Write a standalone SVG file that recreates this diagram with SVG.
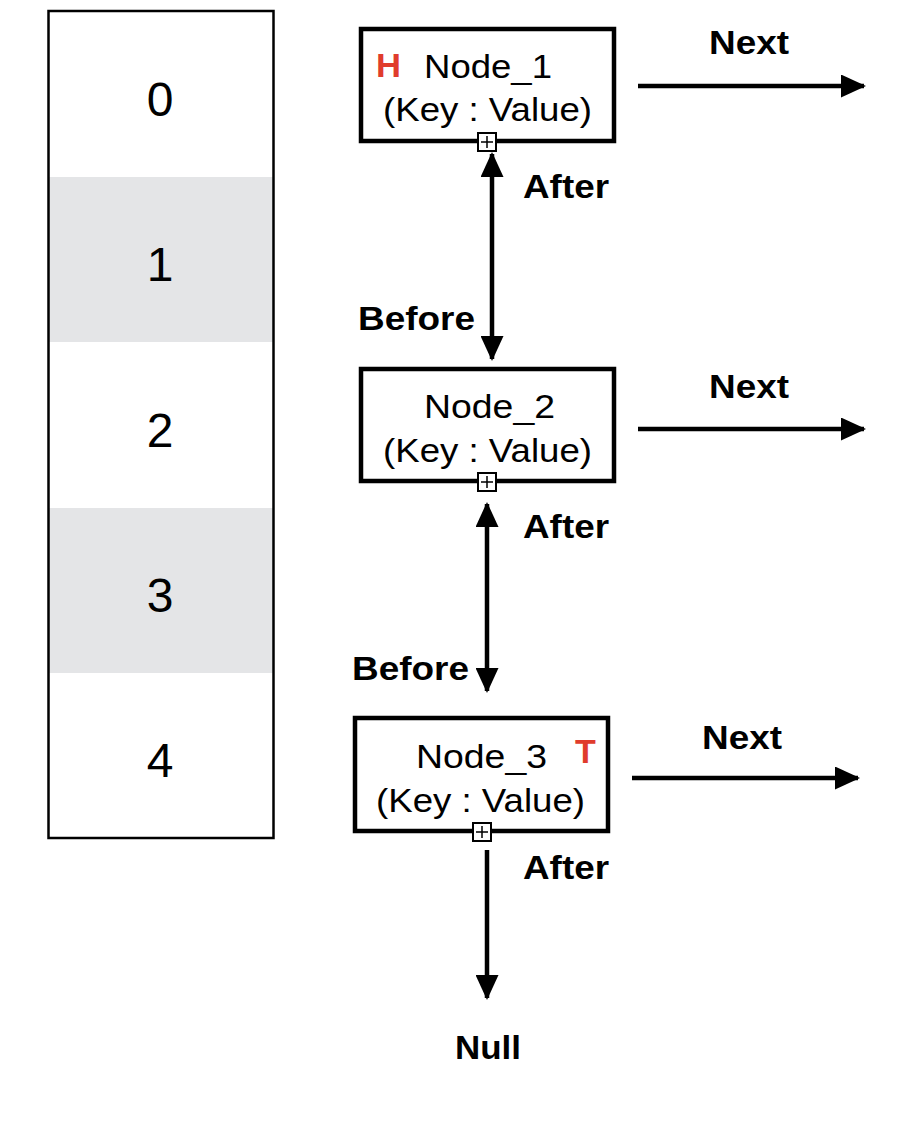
<svg xmlns="http://www.w3.org/2000/svg" width="920" height="1138" viewBox="0 0 920 1138">
<style>
.num{font-family:"Liberation Sans",Arial,sans-serif;font-size:48px;fill:#000;text-anchor:middle}
.nt{font-family:"Liberation Sans",Arial,sans-serif;font-size:34px;fill:#000}
.lb{font-family:"Liberation Sans",Arial,sans-serif;font-size:34px;font-weight:bold;fill:#000}
.mk{font-family:"Liberation Sans",Arial,sans-serif;font-size:34px;font-weight:bold;fill:#e03c2c}
.box{fill:#fff;stroke:#000;stroke-width:4.5}
.sq{fill:#fff;stroke:#000;stroke-width:2}
.ln{stroke:#000;stroke-width:4.5;fill:none}
</style>
<defs>
<marker id="ah" markerUnits="userSpaceOnUse" markerWidth="25" markerHeight="23" refX="23" refY="11.5" orient="auto-start-reverse" viewBox="0 0 25 23">
<path d="M0,0 L25,11.5 L0,23 Z" fill="#000"/>
</marker>
</defs>
<rect width="920" height="1138" fill="#fff"/>
<g id="table">
<rect x="48" y="177" width="226" height="165" fill="#e4e5e7"/>
<rect x="48" y="508" width="226" height="165" fill="#e4e5e7"/>
<rect x="48.5" y="11" width="225" height="827" fill="none" stroke="#000" stroke-width="2.5"/>
<text class="num" x="160" y="116">0</text>
<text class="num" x="160" y="281">1</text>
<text class="num" x="160" y="447">2</text>
<text class="num" x="160" y="612">3</text>
<text class="num" x="160" y="777">4</text>
</g>
<g id="node1">
<rect class="box" x="361" y="29" width="253" height="112"/>
<text class="mk" x="376" y="77" textLength="25" lengthAdjust="spacingAndGlyphs">H</text>
<text class="nt" x="424" y="78" textLength="128" lengthAdjust="spacingAndGlyphs">Node_1</text>
<text class="nt" x="383" y="121" textLength="209" lengthAdjust="spacingAndGlyphs">(Key : Value)</text>
<rect class="sq" x="478" y="133" width="18" height="18"/>
<path d="M481,142 H493 M487,136 V148" stroke="#000" stroke-width="1.5"/>
</g>
<g id="node2">
<rect class="box" x="361" y="369" width="253" height="112"/>
<text class="nt" x="424" y="418" textLength="131" lengthAdjust="spacingAndGlyphs">Node_2</text>
<text class="nt" x="383" y="462" textLength="209" lengthAdjust="spacingAndGlyphs">(Key : Value)</text>
<rect class="sq" x="478" y="473" width="18" height="18"/>
<path d="M481,482 H493 M487,476 V488" stroke="#000" stroke-width="1.5"/>
</g>
<g id="node3">
<rect class="box" x="355" y="718" width="253" height="113"/>
<text class="nt" x="416" y="768" textLength="131" lengthAdjust="spacingAndGlyphs">Node_3</text>
<text class="mk" x="575" y="763">T</text>
<text class="nt" x="376" y="812" textLength="209" lengthAdjust="spacingAndGlyphs">(Key : Value)</text>
<rect class="sq" x="473" y="823" width="18" height="18"/>
<path d="M476,832 H488 M482,826 V838" stroke="#000" stroke-width="1.5"/>
</g>
<g id="connectors">
<line class="ln" x1="638" y1="86" x2="864" y2="86" marker-end="url(#ah)"/>
<line class="ln" x1="638" y1="429" x2="864" y2="429" marker-end="url(#ah)"/>
<line class="ln" x1="632" y1="778" x2="858" y2="778" marker-end="url(#ah)"/>
<line class="ln" x1="492" y1="154" x2="492" y2="359" marker-start="url(#ah)" marker-end="url(#ah)"/>
<line class="ln" x1="487" y1="504" x2="487" y2="691" marker-start="url(#ah)" marker-end="url(#ah)"/>
<line class="ln" x1="487" y1="850" x2="487" y2="998" marker-end="url(#ah)"/>
</g>
<g id="labels">
<text class="lb" x="709" y="54" textLength="80" lengthAdjust="spacingAndGlyphs">Next</text>
<text class="lb" x="709" y="398" textLength="80" lengthAdjust="spacingAndGlyphs">Next</text>
<text class="lb" x="702" y="749" textLength="80" lengthAdjust="spacingAndGlyphs">Next</text>
<text class="lb" x="523" y="198" textLength="86" lengthAdjust="spacingAndGlyphs">After</text>
<text class="lb" x="523" y="538" textLength="86" lengthAdjust="spacingAndGlyphs">After</text>
<text class="lb" x="523" y="879" textLength="86" lengthAdjust="spacingAndGlyphs">After</text>
<text class="lb" x="358" y="330" textLength="117" lengthAdjust="spacingAndGlyphs">Before</text>
<text class="lb" x="352" y="680" textLength="117" lengthAdjust="spacingAndGlyphs">Before</text>
<text class="lb" x="455" y="1059" textLength="66" lengthAdjust="spacingAndGlyphs">Null</text>
</g>
</svg>
